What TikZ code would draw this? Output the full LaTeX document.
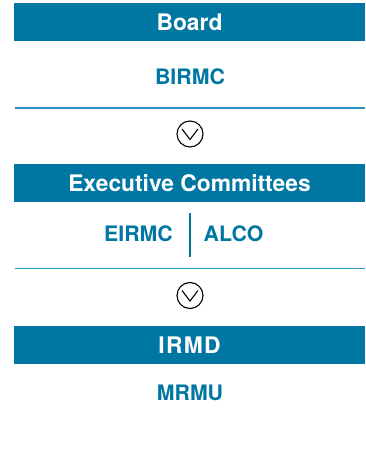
\documentclass[tikz,border=0pt]{standalone}
\usepackage{fontspec}
\setmainfont{TeX Gyre Heros}
\usepackage{xcolor}
\usepackage{tikz}
\definecolor{barblue}{HTML}{0077A2}
\definecolor{lineblue}{HTML}{2A93BE}
\tikzset{
  bar/.style={rectangle,fill=barblue,text=white,font=\fontsize{22.8}{26}\selectfont\bfseries,
    minimum width=351pt,minimum height=38pt,inner sep=0pt},
  unit/.style={text=barblue,font=\fontsize{21.3}{25}\selectfont\bfseries,inner sep=0pt},
  chevron/.style={circle,draw=black,line width=1.1pt,minimum size=26pt,inner sep=0pt}
}
\begin{document}
\begin{tikzpicture}[x=1pt,y=1pt]
        \useasboundingbox (0,0) rectangle (365,-454);
        % Level 1
        \node[bar] (board) at (189.5,-22) {Board};
        \node[unit] (birmc) at (190,-77) {BIRMC};
        \coordinate (sepa) at (15,-108);
        \coordinate (sepb) at (365,-108);
        \node[chevron] (down1) at (190,-134) {};
        % Level 2
        \node[bar] (exec) at (189.5,-183) {Executive Committees};
        \node[unit] (eirmc) at (138.5,-234) {EIRMC};
        \node[unit] (alco) at (233.5,-234) {ALCO};
        \coordinate (divtop) at (190,-213);
        \coordinate (divbot) at (190,-257);
        \coordinate (sepc) at (15,-268.5);
        \coordinate (sepd) at (365,-268.5);
        \node[chevron] (down2) at (190,-295.5) {};
        % Level 3
        \node[bar] (irmd) at (189.5,-345) {\addfontfeature{LetterSpace=6}IRMD};
        \node[unit] (mrmu) at (190,-393) {MRMU};
        % Lines
        \draw[lineblue,line width=1.2pt] (sepa) -- (sepb);
        \draw[lineblue,line width=1.2pt] (sepc) -- (sepd);
        \draw[barblue,line width=1.2pt] (divtop) -- (divbot);
        \draw[line width=1.1pt] ([shift={(-8,5)}]down1.center) -- ([shift={(0,-5.5)}]down1.center) -- ([shift={(8,5)}]down1.center);
        \draw[line width=1.1pt] ([shift={(-8,5)}]down2.center) -- ([shift={(0,-5.5)}]down2.center) -- ([shift={(8,5)}]down2.center);
    \end{tikzpicture}
\end{document}
